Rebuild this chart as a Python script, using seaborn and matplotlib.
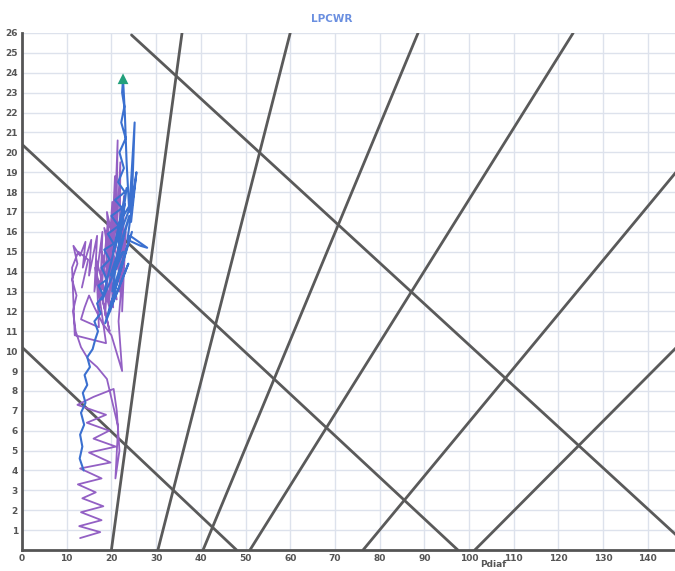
import matplotlib
matplotlib.use("Agg")
import matplotlib.pyplot as plt
import seaborn as sns
import pandas as pd

# Reference isopleths, each given by its two end points (x0, y0, x1, y1)
falling_lines = [
    (0.0, 10.2, 48.0, 0.0),
    (0.0, 20.4, 97.5, 0.0),
    (24.5, 25.9, 150.0, 0.0),
]
rising_lines = [
    (20.0, 0.0, 35.8, 26.0),
    (30.4, 0.0, 60.0, 26.0),
    (40.5, 0.0, 88.6, 26.0),
    (51.0, 0.0, 123.3, 26.0),
    (76.3, 0.0, 150.0, 20.0),
    (101.3, 0.0, 150.0, 11.0),
]

# Recorded loop traces
purple_x = [13.0, 17.5, 12.8, 17.8, 13.2, 18.2, 13.5, 16.5, 12.5, 17.8, 13.0, 19.8,
            15.0, 21.0, 16.0, 19.5, 14.5, 18.8, 12.4, 16.0, 20.5, 21.2, 21.8, 20.9,
            21.5, 19.0, 16.8, 14.8, 13.2, 12.0, 11.4, 12.2, 11.2, 12.4, 11.5, 13.0,
            14.2, 13.6, 15.5, 15.0, 16.8, 16.2, 18.0, 17.4, 19.2, 18.6, 20.2, 19.5,
            20.8, 20.3, 21.4, 21.0, 22.0, 21.8, 22.8, 22.4, 23.2, 21.6, 22.4, 20.0,
            18.0, 16.2, 15.0, 14.0, 13.2, 17.2, 16.6, 19.8, 17.8, 21.2, 18.4, 22.6,
            19.0, 20.4, 17.0, 19.6, 16.4, 18.8, 11.8, 11.2, 12.6, 14.8, 13.4]
purple_y = [0.6, 0.9, 1.2, 1.5, 1.9, 2.2, 2.6, 2.9, 3.3, 3.6, 4.1, 4.4,
            4.9, 5.2, 5.6, 6.0, 6.4, 6.8, 7.3, 7.7, 8.1, 7.0, 5.0, 3.6,
            6.2, 8.6, 9.2, 9.6, 10.2, 11.0, 12.0, 12.8, 13.6, 14.4, 15.3, 14.8,
            15.5, 14.2, 15.6, 13.8, 15.8, 13.0, 16.0, 12.2, 16.5, 11.8, 17.5, 12.5,
            18.8, 14.0, 20.6, 15.2, 19.5, 13.0, 17.8, 12.0, 16.0, 11.5, 9.0, 10.8,
            11.4, 12.2, 12.8, 12.2, 11.6, 11.2, 14.6, 12.0, 15.0, 12.6, 16.2, 13.4,
            17.0, 12.2, 13.6, 11.0, 14.2, 10.4, 10.8, 14.2, 15.0, 14.6, 13.2]

blue_x = [13.8, 12.9, 13.5, 13.0, 13.9, 13.2, 14.2, 13.6, 14.6, 14.0, 15.2, 14.6,
          15.8, 16.4, 17.0, 16.2, 17.6, 16.8, 18.2, 17.1, 19.0, 17.8, 19.6, 18.4,
          20.5, 19.2, 21.6, 20.0, 22.4, 20.8, 23.0, 21.5, 22.8, 21.8, 23.2, 22.2,
          22.9, 22.4, 22.6, 23.0, 23.4, 24.0, 25.2, 24.4, 25.6, 23.6, 26.5, 28.0,
          24.2, 19.5, 23.8, 18.6, 24.6, 20.2, 23.0, 18.0, 22.6, 19.8, 24.0, 21.0,
          23.4, 20.4, 24.8, 21.6]
blue_y = [4.0, 4.6, 5.2, 5.8, 6.3, 6.9, 7.4, 7.9, 8.3, 8.8, 9.2, 9.7,
          10.1, 10.6, 11.0, 11.5, 11.9, 12.4, 12.8, 13.3, 13.6, 14.2, 14.6, 15.1,
          15.4, 15.9, 16.3, 16.8, 17.2, 17.6, 18.0, 18.5, 19.2, 20.0, 20.7, 21.5,
          22.3, 23.0, 23.7, 22.0, 19.5, 17.0, 21.5, 16.5, 19.0, 15.6, 15.3, 15.2,
          15.8, 12.0, 14.4, 11.4, 16.0, 13.0, 17.4, 12.6, 15.0, 13.8, 16.8, 14.2,
          18.2, 15.0, 17.6, 16.4]

peak_x = [22.6]
peak_y = [23.7]

x_ticks = list(range(0, 141, 10))
y_ticks = list(range(1, 27))

sns.set_theme(style="whitegrid")
plt.rcParams["font.family"] = ["DejaVu Sans"]

fig = plt.figure(figsize=(6.75, 5.71), dpi=100)
ax = fig.add_axes([22 / 675, 21 / 571, 670.5 / 675, 517 / 571])

line_color = "#5a5a5a"
for x0, y0, x1, y1 in falling_lines + rising_lines:
    seg = pd.DataFrame({"x": [x0, x1], "y": [y0, y1]})
    sns.lineplot(data=seg, x="x", y="y", ax=ax, color=line_color,
                 linewidth=2.0, sort=False, estimator=None)

purple = pd.DataFrame({"x": purple_x, "y": purple_y})
blue = pd.DataFrame({"x": blue_x, "y": blue_y})
sns.lineplot(data=purple, x="x", y="y", ax=ax, color="#9360c4",
             linewidth=1.3, sort=False, estimator=None)
sns.lineplot(data=blue, x="x", y="y", ax=ax, color="#3b70d0",
             linewidth=1.5, sort=False, estimator=None)
sns.scatterplot(x=peak_x, y=peak_y, ax=ax, marker="^", s=60,
                color="#22a07c", edgecolor="none", zorder=5)

ax.set_xlim(0, 150)
ax.set_ylim(0, 26)
ax.set_xticks(x_ticks)
ax.set_yticks(y_ticks)
ax.grid(True, which="major", color="#dde2ec", linewidth=1.0)
ax.tick_params(axis="both", labelsize=6.5, colors="#555555", length=0, pad=3)
for lab in ax.get_xticklabels() + ax.get_yticklabels():
    lab.set_fontweight("bold")

for side in ["top", "right"]:
    ax.spines[side].set_visible(False)
for side in ["left", "bottom"]:
    ax.spines[side].set_color("#555555")
    ax.spines[side].set_linewidth(2.0)

ax.set_xlabel("Pdiaf", fontsize=6.5, fontweight="bold", color="#555555",
              va="top")
ax.xaxis.set_label_coords((493 - 22) / 670.5, -0.019)
ax.set_ylabel("")

fig.text(332 / 675, 1 - 19 / 571, "LPCWR", ha="center", va="center",
         fontsize=7.5, fontweight="bold", color="#6a8fe0")

fig.savefig("out.png", dpi=100)
